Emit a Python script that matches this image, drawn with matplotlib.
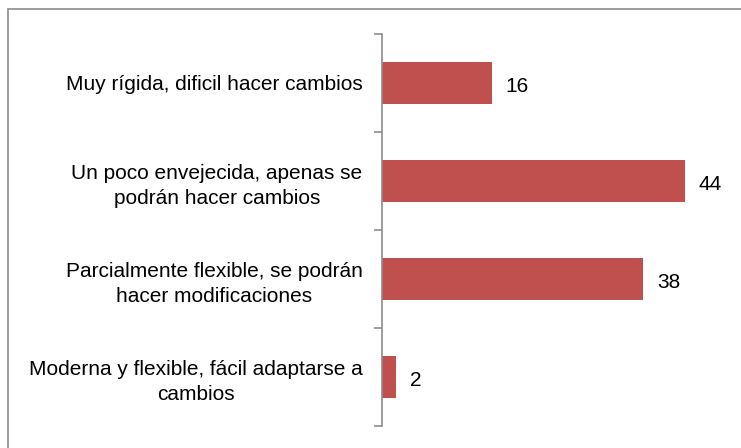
import matplotlib
matplotlib.use("Agg")
import matplotlib.pyplot as plt
from matplotlib.patches import Rectangle

plt.rcParams["font.family"] = ["Liberation Sans", "DejaVu Sans"]

categorias = [
    "Muy rígida, dificil hacer cambios",
    "Un poco envejecida, apenas se\npodrán hacer cambios",
    "Parcialmente flexible, se podrán\nhacer modificaciones",
    "Moderna y flexible, fácil adaptarse a\ncambios",
]
valores = [16, 44, 38, 2]

W, H = 741, 448
fig = plt.figure(figsize=(W / 100, H / 100), dpi=100)

# marco gris del grafico
fig.patches.append(Rectangle((8 / W, -0.05), 1.1, 1 - 9 / H + 0.05,
                             transform=fig.transFigure, fill=False,
                             edgecolor="#8c8c8c", lw=1.2))

ax = fig.add_axes([382 / W, 1 - 426 / H, 344 / W, 392 / H])
pos = list(range(len(valores)))[::-1]
ax.barh(pos, valores, height=0.42, color="#C0504D")
for y, v in zip(pos, valores):
    ax.text(v + 2, y - 0.04, str(v), va="center", ha="left", fontsize=15)

ax.set_xlim(0, 50)
ax.set_ylim(-0.5, 3.5)
ax.set_yticks(pos)
ax.set_yticklabels(categorias, fontsize=15, multialignment="center",
                   linespacing=1.4)
ax.set_yticks([-0.5, 0.5, 1.5, 2.5, 3.5], minor=True)
ax.tick_params(axis="y", which="major", length=0, pad=14)
ax.tick_params(axis="y", which="minor", length=6, color="#8c8c8c", width=1.2)
ax.set_xticks([])
for s in ["top", "right", "bottom"]:
    ax.spines[s].set_visible(False)
ax.spines["left"].set_color("#8c8c8c")
ax.spines["left"].set_linewidth(1.2)

fig.savefig("out.png", dpi=100)
